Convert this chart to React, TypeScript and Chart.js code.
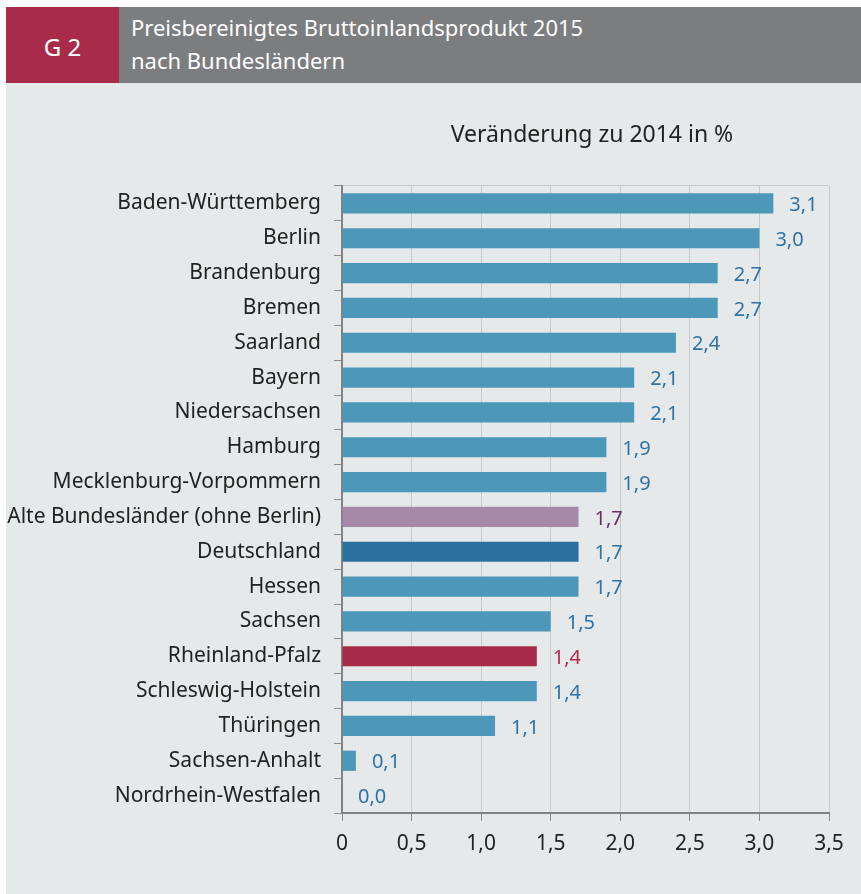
import React, { useEffect, useRef } from "react";
import { Chart, registerables } from "chart.js";

Chart.register(...registerables);

const categories = [
  "Baden-Württemberg",
  "Berlin",
  "Brandenburg",
  "Bremen",
  "Saarland",
  "Bayern",
  "Niedersachsen",
  "Hamburg",
  "Mecklenburg-Vorpommern",
  "Alte Bundesländer (ohne Berlin)",
  "Deutschland",
  "Hessen",
  "Sachsen",
  "Rheinland-Pfalz",
  "Schleswig-Holstein",
  "Thüringen",
  "Sachsen-Anhalt",
  "Nordrhein-Westfalen",
];

const values = [3.1, 3.0, 2.7, 2.7, 2.4, 2.1, 2.1, 1.9, 1.9, 1.7, 1.7, 1.7, 1.5, 1.4, 1.4, 1.1, 0.1, 0.0];

const xTicks = [0, 0.5, 1.0, 1.5, 2.0, 2.5, 3.0, 3.5];

const FONT = "'Noto Sans', sans-serif";

const barColor = (label: string) => {
  if (label === "Alte Bundesländer (ohne Berlin)") return "#a689a6";
  if (label === "Deutschland") return "#2b71a0";
  if (label === "Rheinland-Pfalz") return "#a82a49";
  return "#4d97b8";
};
const textColor = (label: string) => {
  if (label === "Alte Bundesländer (ohne Berlin)") return "#6a2d62";
  if (label === "Rheinland-Pfalz") return "#b0294b";
  return "#2f72a6";
};

const fmt = (v: number, d: number) => v.toFixed(d).replace(".", ",");

const valueLabels = {
  id: "valueLabels",
  afterDatasetsDraw(chart: any) {
    const ctx = chart.ctx;
    const meta = chart.getDatasetMeta(0);
    ctx.save();
    ctx.font = `20px ${FONT}`;
    ctx.textAlign = "left";
    ctx.textBaseline = "middle";
    meta.data.forEach((bar: any, i: number) => {
      ctx.fillStyle = textColor(categories[i]);
      ctx.fillText(fmt(values[i], 1), bar.x + 16, bar.y + 2);
    });
    ctx.restore();
  },
};

export default function App() {
  const ref = useRef<HTMLCanvasElement>(null);
  useEffect(() => {
    if (!ref.current) return;
    const chart = new Chart(ref.current, {
      type: "bar",
      data: {
        labels: categories,
        datasets: [
          {
            data: values,
            backgroundColor: categories.map(barColor),
            barPercentage: 0.58,
            categoryPercentage: 1,
          },
        ],
      },
      options: {
        indexAxis: "y",
        responsive: false,
        animation: false,
        layout: { padding: { left: 0, top: 103, right: 32, bottom: 0 } },
        plugins: { legend: { display: false }, tooltip: { enabled: false } },
        scales: {
          x: {
            min: 0,
            max: 3.5,
            afterBuildTicks(scale: any) {
              scale.ticks = xTicks.map((v) => ({ value: v }));
            },
            afterFit(scale: any) {
              scale.height = 81;
            },
            grid: {
              color: "#c6c9ca",
              tickColor: "#8a8b8c",
              tickLength: 8,
              lineWidth: 1,
            },
            border: { color: "#808183", width: 2 },
            ticks: {
              color: "#222222",
              font: { family: FONT, size: 21 },
              padding: 10,
              callback: (v: any) => (v === 0 ? "0" : fmt(Number(v), 1)),
            },
          },
          y: {
            afterFit(scale: any) {
              scale.width = 336;
            },
            grid: {
              offset: true,
              drawOnChartArea: true,
              color: (c: any) => (c.index === 0 ? "#c6c9ca" : "transparent"),
              tickColor: "#8a8b8c",
              tickLength: 8,
            },
            border: { color: "#808183", width: 2 },
            ticks: {
              color: "#222222",
              font: { family: FONT, size: 21 },
              padding: 13,
            },
          },
        },
      },
      plugins: [valueLabels],
    });
    return () => chart.destroy();
  }, []);

  return (
    <div style={{ position: "absolute", left: 0, top: 0, width: 861, height: 894, background: "#ffffff", fontFamily: FONT }}>
      <div style={{ position: "absolute", left: 6, top: 7, width: 113, height: 76, background: "#a82c4a", color: "#fff", fontSize: 24, display: "flex", alignItems: "center", justifyContent: "center", paddingTop: 2, boxSizing: "border-box" }}>
        G 2
      </div>
      <div style={{ position: "absolute", left: 119, top: 7, width: 742, height: 76, background: "#7c7d7f", color: "#fff", fontSize: 22, lineHeight: "33px", boxSizing: "border-box", paddingLeft: 12, paddingTop: 4 }}>
        Preisbereinigtes Bruttoinlandsprodukt 2015
        <br />
        nach Bundesländern
      </div>
      <div style={{ position: "absolute", left: 6, top: 83, width: 855, height: 811, background: "#e5e9ea" }}>
        <canvas ref={ref} width={855} height={811} style={{ position: "absolute", left: 0, top: 0 }} />
        <div style={{ position: "absolute", left: 0, top: 34, width: 1172, textAlign: "center", fontSize: 23, color: "#222222", whiteSpace: "nowrap" }}>
          Veränderung zu 2014 in %
        </div>
      </div>
    </div>
  );
}
